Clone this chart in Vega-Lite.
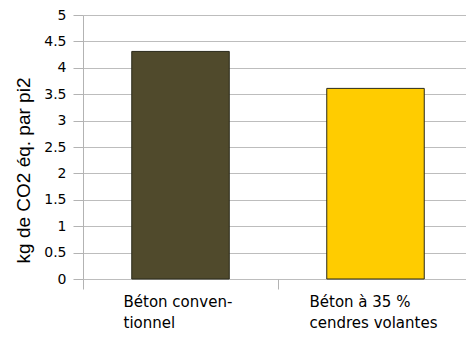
{
  "$schema": "https://vega.github.io/schema/vega-lite/v6.json",
  "autosize": "none",
  "padding": {"left": 83, "top": 15, "right": 0, "bottom": 58},
  "width": 383,
  "height": 264,
  "background": "white",
  "config": {
    "view": {"stroke": null},
    "font": "Liberation Sans",
    "axis": {
      "labelFont": "DejaVu Sans",
      "titleFont": "Liberation Sans",
      "labelColor": "#000000",
      "titleColor": "#000000",
      "labelFontSize": 14,
      "titleFontSize": 19,
      "titleFontWeight": "normal",
      "domainColor": "#b3b3b3",
      "tickColor": "#b3b3b3",
      "gridColor": "#bdbdbd",
      "tickSize": 10
    }
  },
  "data": {
    "values": [
      {"category": "Béton conventionnel", "value": 4.31, "color": "#504a2c"},
      {"category": "Béton à 35 % cendres volantes", "value": 3.61, "color": "#ffcc00"}
    ]
  },
  "mark": {"type": "bar", "stroke": "#2a2a1a", "strokeWidth": 1},
  "encoding": {
    "x": {
      "field": "category",
      "type": "nominal",
      "sort": null,
      "scale": {"range": [0, 390], "paddingInner": 0.5, "paddingOuter": 0.25},
      "axis": {
        "title": null,
        "labelAngle": 0,
        "bandPosition": -0.5,
        "domain": false,
        "labelFontSize": 15,
        "labelPadding": 5,
        "labelLineHeight": 21,
        "labelAlign": "left",
        "labelOffset": {"condition": {"test": "datum.value === 'Béton conventionnel'", "value": -57}, "value": -66},
        "labelExpr": "datum.value === 'Béton conventionnel' ? ['Béton conven-', 'tionnel'] : ['Béton à 35 %', 'cendres volantes']"
      }
    },
    "y": {
      "field": "value",
      "type": "quantitative",
      "scale": {"domain": [0, 5], "nice": false},
      "axis": {
        "title": "kg de CO2 éq. par pi2",
        "values": [0, 0.5, 1, 1.5, 2, 2.5, 3, 3.5, 4, 4.5, 5],
        "format": "~g",
        "labelPadding": 7,
        "titlePadding": 10,
        "titleY": 155,
        "grid": true,
        "domain": true
      }
    },
    "color": {"field": "color", "type": "nominal", "scale": null, "legend": null}
  }
}
